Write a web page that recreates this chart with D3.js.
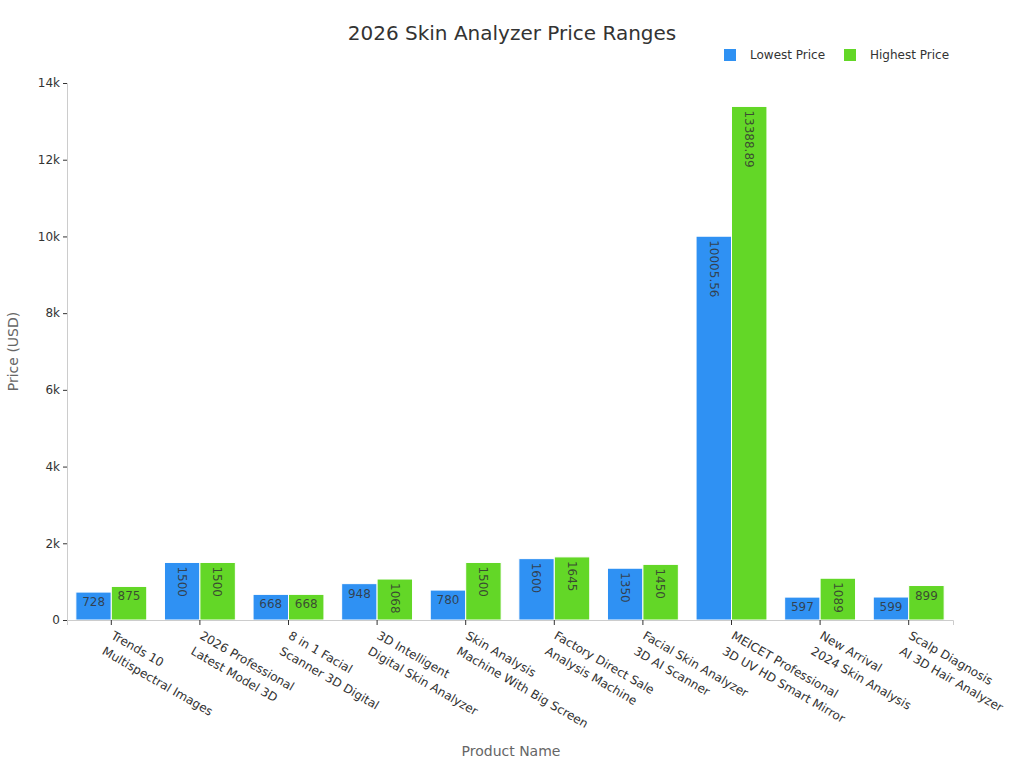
<html>
<head>
<script src="https://d3js.org/d3.v7.min.js"></script>
<style>
  body { margin: 0; background: #fff; }
  text { font-family: "DejaVu Sans", sans-serif; }
</style>
</head>
<body>
<svg id="chart" width="1024" height="768"></svg>
<script>
// chart data
const products = [
  ["Trends 10", "Multispectral Images"],
  ["2026 Professional", "Latest Model 3D"],
  ["8 in 1 Facial", "Scanner 3D Digital"],
  ["3D Intelligent", "Digital Skin Analyzer"],
  ["Skin Analysis", "Machine With Big Screen"],
  ["Factory Direct Sale", "Analysis Machine"],
  ["Facial Skin Analyzer", "3D AI Scanner"],
  ["MEICET Professional", "3D UV HD Smart Mirror"],
  ["New Arrival", "2024 Skin Analysis"],
  ["Scalp Diagnosis", "AI 3D Hair Analyzer"]
];
const lowestPrice = [728, 1500, 668, 948, 780, 1600, 1350, 10005.56, 597, 599];
const highestPrice = [875, 1500, 668, 1068, 1500, 1645, 1450, 13388.89, 1089, 899];
const seriesNames = ["Lowest Price", "Highest Price"];
const seriesColors = ["#2f91f3", "#63d727"];
const yTicks = [0, 2000, 4000, 6000, 8000, 10000, 12000, 14000];

const svg = d3.select('svg#chart');
const margins = {top: 83, right: 71, bottom: 148, left: 67};
const chartWidth = 1024 - margins.left - margins.right;
const chartHeight = 768 - margins.top - margins.bottom;

const chartArea = svg.append('g')
  .attr('transform', `translate(${margins.left},${margins.top})`);

const xScale = d3.scaleBand().domain(d3.range(products.length)).range([0, chartWidth]).paddingInner(0.2).paddingOuter(0.1);
const xCat = d3.scaleBand().domain(d3.range(products.length)).range([0, chartWidth]);
const inner = d3.scaleBand().domain([0, 1]).range([0, xScale.bandwidth()]);
const yScale = d3.scaleLinear().domain([0, 14000]).range([chartHeight, 0]);

// title
svg.append('text')
  .attr('x', 512).attr('y', 40)
  .attr('text-anchor', 'middle')
  .attr('font-size', 20)
  .attr('fill', '#333')
  .text('2026 Skin Analyzer Price Ranges');

// legend
const legendX = [724, 844];
seriesNames.forEach((name, i) => {
  svg.append('rect')
    .attr('x', legendX[i]).attr('y', 49)
    .attr('width', 12).attr('height', 12)
    .attr('fill', seriesColors[i]);
  svg.append('text')
    .attr('x', legendX[i] + 26).attr('y', 59)
    .attr('font-size', 12)
    .attr('fill', '#333')
    .text(name);
});

// y axis
const leftAxis = d3.axisLeft(yScale).tickValues(yTicks).tickSize(4).tickPadding(3)
  .tickFormat(d => d === 0 ? '0' : (d / 1000) + 'k');
const yAxisG = chartArea.append('g').attr('class', 'y axis').call(leftAxis);
yAxisG.select('.domain').attr('stroke', '#ccc');
yAxisG.selectAll('.tick line').attr('stroke', '#333');
yAxisG.selectAll('.tick text').attr('font-size', 12).attr('fill', '#333').style('font-family', '"DejaVu Sans", sans-serif');

// bars
const series = [lowestPrice, highestPrice];
series.forEach((values, s) => {
  values.forEach((v, i) => {
    const x = xScale(i) + inner(s);
    const y = yScale(v);
    const w = inner.bandwidth();
    chartArea.append('rect')
      .attr('x', x).attr('y', y)
      .attr('width', w).attr('height', chartHeight - y)
      .attr('fill', seriesColors[s])
      .attr('stroke', '#fff')
      .attr('stroke-width', 1);
    const label = String(v);
    if (label.length <= 3) {
      chartArea.append('text')
        .attr('x', x + w / 2).attr('y', y + 14)
        .attr('text-anchor', 'middle')
        .attr('font-size', 12)
        .attr('fill', '#333')
        .attr('fill-opacity', 0.85)
        .text(label);
    } else {
      chartArea.append('text')
        .attr('transform', `translate(${x + w / 2},${y + 4}) rotate(90)`)
        .attr('dy', '0.35em')
        .attr('font-size', 12)
        .attr('fill', '#333')
        .attr('fill-opacity', 0.85)
        .text(label);
    }
  });
});

// x axis
const bottomAxis = d3.axisBottom(xCat).tickSize(5).tickFormat('');
const xAxisG = chartArea.append('g').attr('class', 'x axis')
  .attr('transform', `translate(0,${chartHeight})`).call(bottomAxis);
xAxisG.select('.domain').attr('stroke', '#ccc');
xAxisG.selectAll('.tick line').attr('stroke', '#333');

products.forEach((lines, i) => {
  const cx = xCat(i) + xCat.bandwidth() / 2;
  const t = chartArea.append('text')
    .attr('transform', `translate(${cx - 1},${chartHeight + 18}) rotate(30)`)
    .attr('font-size', 12)
    .attr('fill', '#333');
  lines.forEach((ln, j) => {
    t.append('tspan').attr('x', 0).attr('dy', j === 0 ? 0 : 18).text(ln);
  });
});

// axis titles
svg.append('text')
  .attr('transform', `translate(18,${margins.top + chartHeight / 2}) rotate(-90)`)
  .attr('text-anchor', 'middle')
  .attr('font-size', 14)
  .attr('fill', '#666')
  .text('Price (USD)');
svg.append('text')
  .attr('x', 511).attr('y', 756)
  .attr('text-anchor', 'middle')
  .attr('font-size', 14)
  .attr('fill', '#666')
  .text('Product Name');
</script>
</body>
</html>
